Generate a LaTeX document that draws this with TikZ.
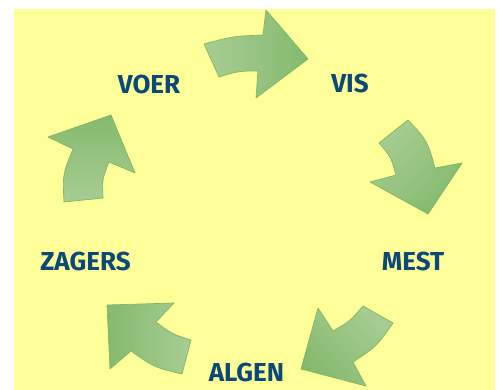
\documentclass[tikz,border=0pt]{standalone}
\usepackage{fontspec}
\setmainfont{Fira Sans}
\definecolor{bgyellow}{RGB}{255,255,153}
\definecolor{gl}{RGB}{168,205,148}
\definecolor{gd}{RGB}{132,186,110}
\definecolor{arrowedge}{RGB}{125,185,100}
\definecolor{lblblue}{RGB}{10,73,120}
\begin{document}
\begin{tikzpicture}[x=1pt,y=-1pt,
  lbl/.style={font=\fontsize{26}{30}\selectfont\bfseries, text=lblblue, inner sep=0pt},
  blk/.style={draw=arrowedge, line width=0.7pt, line join=round}]
\useasboundingbox (0,0) rectangle (501,390);
\fill[white] (0,0) rectangle (501,390);
\fill[bgyellow] (14,9) rectangle (495,390);
% arrow VOER -> VIS
\shadedraw[blk, left color=gl, right color=gd] (204,44) .. controls (233.0,36.2) .. (263,35) -- (266,10) -- (308,59) -- (256,98) -- (258,71) .. controls (238.1,71.1) .. (219,77) -- cycle;
% arrow VIS -> MEST
\shadedraw[blk, top color=gl, bottom color=gd, shading angle=45] (408,120) .. controls (427.4,140.8) .. (435,168) -- (462,163) -- (428,214) -- (370,182) -- (396,175) .. controls (391.0,157.1) .. (379,143) -- cycle;
% arrow MEST -> ALGEN
\shadedraw[blk, top color=gl, bottom color=gd, shading angle=-45] (393,323) -- (363,306) .. controls (350.1,321.1) .. (333,331) -- (318,308) -- (301,369) -- (366,386) -- (353,362) .. controls (376.7,346.3) .. (393,323) -- cycle;
% arrow ALGEN -> ZAGERS
\shadedraw[blk, left color=gd, right color=gl] (182,374) -- (191,340) .. controls (172.0,334.0) .. (156,322) -- (174,303) -- (107,305) -- (110,369) -- (131,351) .. controls (154.3,367.4) .. (182,374) -- cycle;
% arrow ZAGERS -> VOER
\shadedraw[blk, top color=gd, bottom color=gl] (64,202) -- (103,198) .. controls (102.1,179.3) .. (109,162) -- (135,173) -- (111,115) -- (48,137) -- (73,149) .. controls (62.6,174.5) .. (64,202) -- cycle;
% labels
\node[lbl] (voer) at (149,84) {VOER};
\node[lbl] (vis) at (350,83.3) {VIS};
\node[lbl] (mest) at (413,261) {MEST};
\node[lbl] (algen) at (246.5,372.2) {ALGEN};
\node[lbl] (zagers) at (85.5,261.7) {ZAGERS};
\end{tikzpicture}
\end{document}
